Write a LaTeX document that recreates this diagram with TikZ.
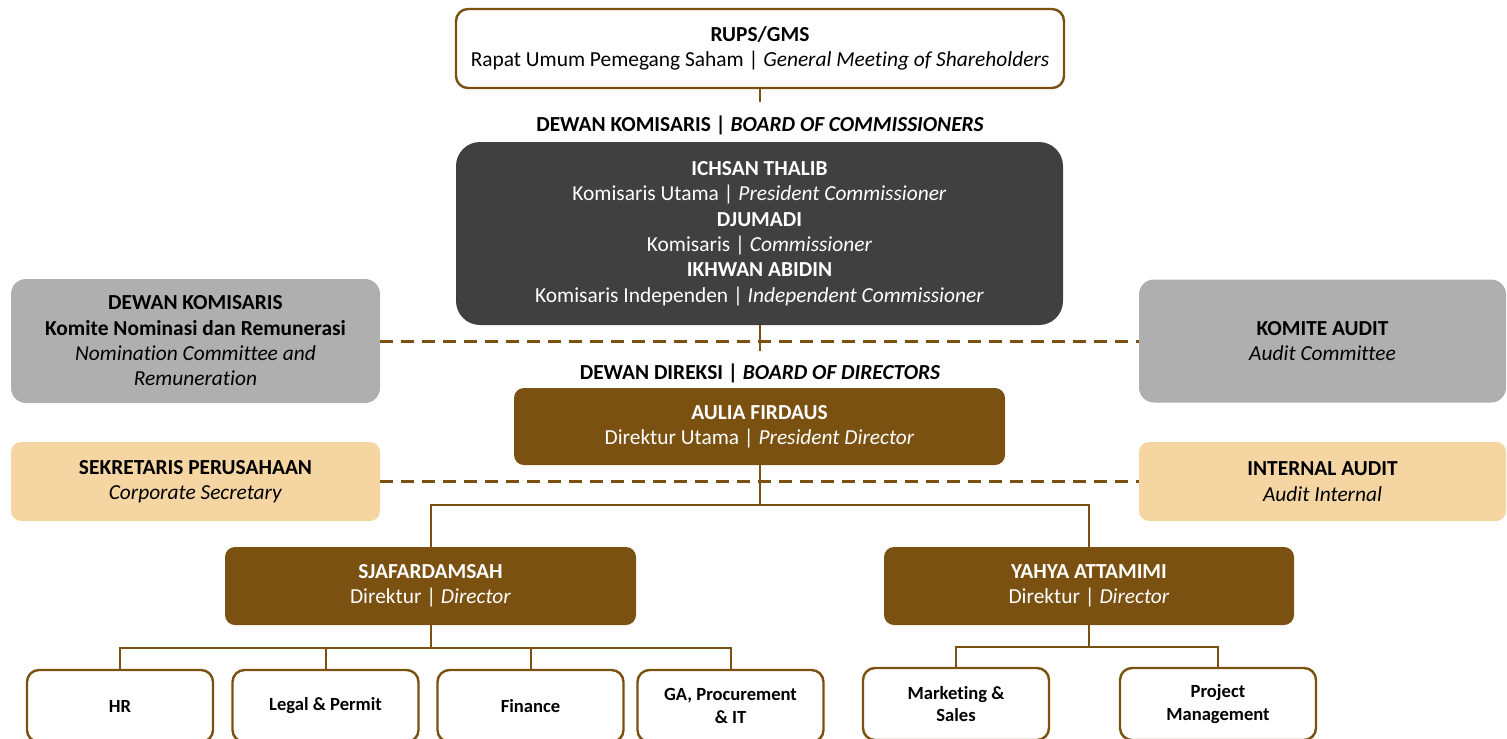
\documentclass[tikz,border=0pt]{standalone}
\usepackage{fontspec}
\setmainfont{Carlito}[Ligatures={NoCommon}]
\definecolor{brn}{HTML}{7B5112}
\definecolor{dgray}{HTML}{404040}
\definecolor{lgray}{HTML}{AFAFAF}
\definecolor{peach}{HTML}{F5D6A3}
\begin{document}
\begin{tikzpicture}[x=0.5pt,y=-0.5pt,
  base/.style={inner sep=0pt, align=center, font=\fontsize{10.7}{12.65}\selectfont},
  whitebox/.style={base, draw=brn, line width=1.2pt, fill=white, rounded corners=6pt},
  darkbox/.style={base, fill=dgray, text=white, rounded corners=12pt},
  graybox/.style={base, fill=lgray, text=black, rounded corners=7.5pt},
  peachbox/.style={base, fill=peach, text=black, rounded corners=5pt},
  brownbox/.style={base, fill=brn, text=white, rounded corners=5pt},
  unitbox/.style={base, draw=brn, line width=1.2pt, fill=white, rounded corners=6pt,
     minimum width=93pt, minimum height=36pt, font=\bfseries\fontsize{9.3}{11.3}\selectfont},
  heading/.style={base, font=\bfseries\fontsize{10.7}{12.65}\selectfont},
  conn/.style={draw=brn, line width=1pt},
  dashline/.style={draw=brn, line width=1.5pt, dash pattern=on 6.5pt off 4pt}
]
\useasboundingbox (0,0) rectangle (1507,738);

% top
\node[whitebox, minimum width=304pt, minimum height=39.5pt] (rups) at (760,48.5)
  {\textbf{RUPS/GMS}\\Rapat Umum Pemegang Saham | \textit{General Meeting of Shareholders}};
\node[heading] (hk) at (760,125) {DEWAN KOMISARIS | \textit{BOARD OF COMMISSIONERS}};
\node[darkbox, minimum width=303.5pt, minimum height=91.5pt] (comm) at (759.5,233.5)
  {\textbf{ICHSAN THALIB}\\Komisaris Utama | \textit{President Commissioner}\\
   \textbf{DJUMADI}\\Komisaris | \textit{Commissioner}\\
   \textbf{IKHWAN ABIDIN}\\Komisaris Independen | \textit{Independent Commissioner}};

% committees
\node[graybox, minimum width=184.5pt, minimum height=62pt] (nom) at (195.5,341)
  {\textbf{DEWAN KOMISARIS}\\\textbf{Komite Nominasi dan Remunerasi}\\\textit{Nomination Committee and}\\\textit{Remuneration}};
\node[graybox, minimum width=183.5pt, minimum height=61.5pt] (aud) at (1322.5,341)
  {\textbf{KOMITE AUDIT}\\\textit{Audit Committee}};

\node[heading] (hd) at (760,373) {DEWAN DIREKSI | \textit{BOARD OF DIRECTORS}};
\node[brownbox, minimum width=245.5pt, minimum height=38.5pt] (pd) at (759.5,426.5)
  {\textbf{AULIA FIRDAUS}\\Direktur Utama | \textit{President Director}};

\node[peachbox, minimum width=184.5pt, minimum height=39.5pt] (sek) at (195.5,481.5)
  {\textbf{SEKRETARIS PERUSAHAAN}\\\textit{Corporate Secretary}};
\node[peachbox, minimum width=183.5pt, minimum height=39.5pt] (ia) at (1322.5,481.5)
  {\textbf{INTERNAL AUDIT}\\\textit{Audit Internal}};

% directors
\node[brownbox, minimum width=205.5pt, minimum height=39pt] (sj) at (430.5,586)
  {\textbf{SJAFARDAMSAH}\\Direktur | \textit{Director}};
\node[brownbox, minimum width=205pt, minimum height=39pt] (ya) at (1089,586)
  {\textbf{YAHYA ATTAMIMI}\\Direktur | \textit{Director}};

% units
\node[unitbox] (hr) at (120,706) {HR};
\node[unitbox] (lg) at (325.5,706) {Legal \& Permit};
\node[unitbox] (fi) at (530.5,706) {Finance};
\node[unitbox] (ga) at (730.5,706) {GA, Procurement\\\& IT};
\node[unitbox] (mk) at (956,704) {Marketing \&\\Sales};
\node[unitbox, minimum width=98pt] (pm) at (1218,704) {Project\\Management};

% connectors
\coordinate (r1) at (760,102);
\draw[conn] (rups.south) -- (r1);
\coordinate (c1) at (760,351);
\draw[conn] (comm.south -| c1) -- (c1);
\draw[dashline] (nom.east) -- (aud.west);
\draw[dashline] (sek.east) -- (ia.west);
\coordinate (j1) at (760,505);
\draw[conn] (pd.south -| j1) -- (j1) -| (sj.north);
\draw[conn] (j1) -| (ya.north);
\coordinate (j2) at (430.5,648);
\draw[conn] (sj.south) -- (j2);
\draw[conn] (j2) -| (hr.north);
\draw[conn] (j2) -| (ga.north);
\draw[conn] (lg.north) -- (lg.north |- j2);
\draw[conn] (fi.north) -- (fi.north |- j2);
\coordinate (j3) at (1089,647);
\draw[conn] (ya.south) -- (j3);
\draw[conn] (j3) -| (mk.north);
\draw[conn] (j3) -| (pm.north);
\end{tikzpicture}
\end{document}
